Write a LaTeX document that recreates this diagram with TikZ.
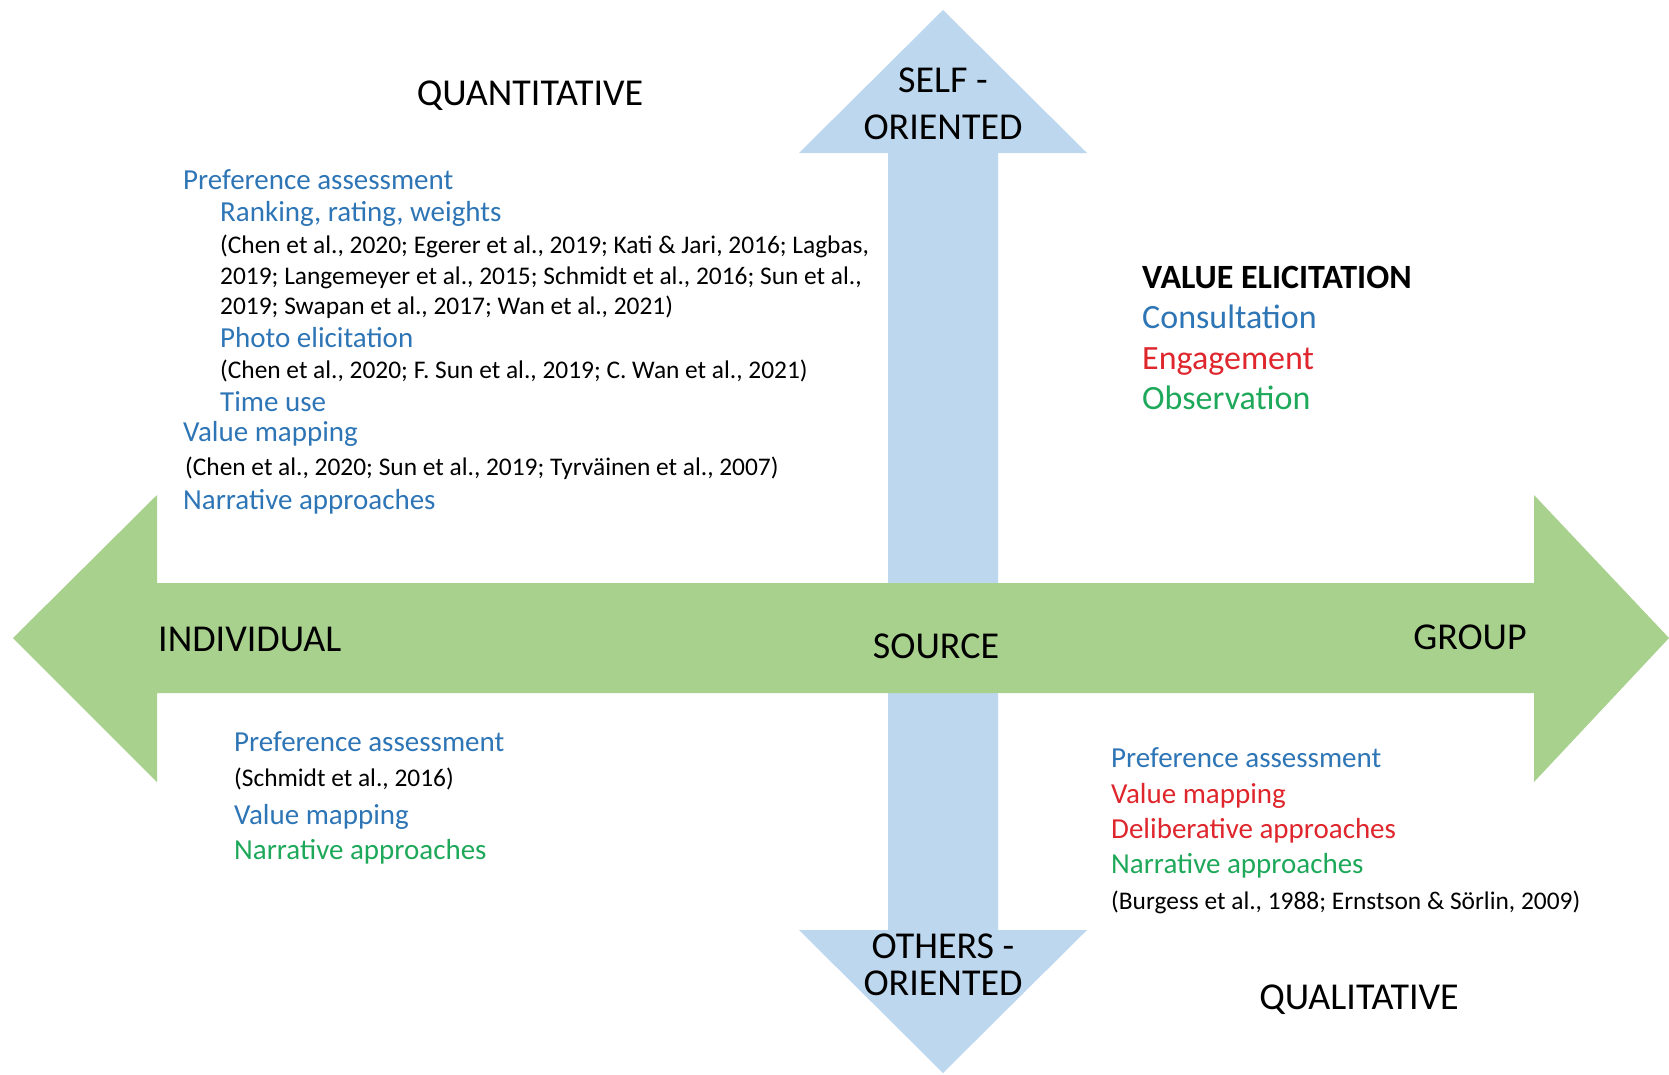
\documentclass[tikz,border=0pt]{standalone}
\usepackage{fontspec}
\setmainfont{Carlito}

\definecolor{methodblue}{RGB}{46,117,182}
\definecolor{methodred}{RGB}{222,38,44}
\definecolor{methodgreen}{RGB}{30,168,90}
\definecolor{axisgreen}{RGB}{169,209,142}
\definecolor{axisblue}{RGB}{189,215,238}

\tikzstyle{axislabel} = [anchor=base, inner sep=0pt, font=\fontsize{38}{45}\selectfont]
\tikzstyle{method} = [anchor=base west, inner sep=0pt, font=\fontsize{29}{34}\selectfont]
\tikzstyle{citation} = [anchor=base west, inner sep=0pt, font=\fontsize{25.4}{30}\selectfont]
\tikzstyle{legend} = [anchor=base west, inner sep=0pt, font=\fontsize{34}{40}\selectfont]

\begin{document}
\begin{tikzpicture}[x=1pt, y=-1pt]
  \useasboundingbox (0,0) rectangle (1669,1074);

  % self / others axis
  \fill[axisblue] (943,10) -- (1087,153) -- (998,153) -- (998,930) -- (1087,930)
    -- (943,1073) -- (799,930) -- (888,930) -- (888,153) -- (799,153) -- cycle;
  % individual / group axis
  \fill[axisgreen] (13,638) -- (157,495) -- (157,583) -- (1534,583) -- (1534,495)
    -- (1669,638) -- (1534,782) -- (1534,693) -- (157,693) -- (157,782) -- cycle;

  % axis ends
  \node[axislabel] (self1)   at (943,92)   {SELF -};
  \node[axislabel] (self2)   at (943,139)  {ORIENTED};
  \node[axislabel] (others1) at (943,958)  {OTHERS -};
  \node[axislabel] (others2) at (943,995)  {ORIENTED};
  \node[axislabel, anchor=base west] (indiv) at (158,651) {INDIVIDUAL};
  \node[axislabel] (source)  at (936,658)  {SOURCE};
  \node[axislabel] (group)   at (1470,649) {GROUP};
  \node[axislabel] (quant)   at (530,105)  {QUANTITATIVE};
  \node[axislabel] (qual)    at (1359,1009) {QUALITATIVE};

  % key
  \node[legend, font=\fontsize{34}{40}\selectfont\bfseries] (key) at (1142,288) {VALUE ELICITATION};
  \node[legend, text=methodblue]  (consult) at (1142,328) {Consultation};
  \node[legend, text=methodred]   (engage)  at (1142,369) {Engagement};
  \node[legend, text=methodgreen] (observe) at (1142,409) {Observation};

  % individual, self-oriented
  \node[method, text=methodblue] (pref1) at (183,189) {Preference assessment};
  \node[method, text=methodblue] (rank1) at (220,221) {Ranking, rating, weights};
  \node[citation] (rankcite1) at (220,253) {(Chen et al., 2020; Egerer et al., 2019; Kati \& Jari, 2016; Lagbas,};
  \node[citation] (rankcite2) at (220,284) {2019; Langemeyer et al., 2015; Schmidt et al., 2016; Sun et al.,};
  \node[citation] (rankcite3) at (220,314) {2019; Swapan et al., 2017; Wan et al., 2021)};
  \node[method, text=methodblue] (photo1) at (220,347) {Photo elicitation};
  \node[citation] (photocite) at (220,378) {(Chen et al., 2020; F. Sun et al., 2019; C. Wan et al., 2021)};
  \node[method, text=methodblue] (time1) at (220,411) {Time use};
  \node[method, text=methodblue] (map1) at (183,441) {Value mapping};
  \node[citation] (mapcite) at (185,475) {(Chen et al., 2020; Sun et al., 2019; Tyrväinen et al., 2007)};
  \node[method, text=methodblue] (narr1) at (183,509) {Narrative approaches};

  % individual, others-oriented
  \node[method, text=methodblue] (pref2) at (234,751) {Preference assessment};
  \node[citation] (prefcite2) at (234,786) {(Schmidt et al., 2016)};
  \node[method, text=methodblue] (map2) at (234,824) {Value mapping};
  \node[method, text=methodgreen] (narr2) at (234,859) {Narrative approaches};

  % group, others-oriented
  \node[method, text=methodblue] (pref3) at (1111,767) {Preference assessment};
  \node[method, text=methodred] (map3) at (1111,803) {Value mapping};
  \node[method, text=methodred] (delib3) at (1111,838) {Deliberative approaches};
  \node[method, text=methodgreen] (narr3) at (1111,873) {Narrative approaches};
  \node[citation] (narrcite3) at (1111,909) {(Burgess et al., 1988; Ernstson \& Sörlin, 2009)};

\end{tikzpicture}
\end{document}
